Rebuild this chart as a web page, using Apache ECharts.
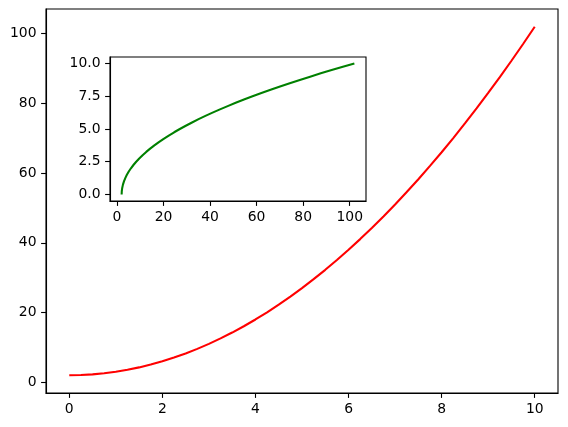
<!DOCTYPE html>
<html>
<head>
<meta charset="utf-8">
<script src="https://cdn.jsdelivr.net/npm/echarts@6/dist/echarts.min.js"></script>
<style>html,body{margin:0;padding:0;background:#fff;}#c{width:568px;height:427px;}</style>
</head>
<body>
<div id="c"></div>
<script>
var xVals = [0,0.25,0.5,0.75,1,1.25,1.5,1.75,2,2.25,2.5,2.75,3,3.25,3.5,3.75,4,4.25,4.5,4.75,5,5.25,5.5,5.75,6,6.25,6.5,6.75,7,7.25,7.5,7.75,8,8.25,8.5,8.75,9,9.25,9.5,9.75,10];
var yVals = [2,2.0625,2.25,2.5625,3,3.5625,4.25,5.0625,6,7.0625,8.25,9.5625,11,12.5625,14.25,16.0625,18,20.0625,22.25,24.5625,27,29.5625,32.25,35.0625,38,41.0625,44.25,47.5625,51,54.5625,58.25,62.0625,66,70.0625,74.25,78.5625,83,87.5625,92.25,97.0625,102];
var mainXTicks = [0,2,4,6,8,10];
var mainYTicks = [0,20,40,60,80,100];
var insetXTicks = [0,20,40,60,80,100];
var insetYTicks = [0,2.5,5,7.5,10];

var mainData = xVals.map(function(x,i){return [x,yVals[i]];});
var insetData = xVals.map(function(x,i){return [yVals[i],x];});

var font = {color:'#000', fontFamily:'DejaVu Sans', fontSize:13.9};
function xAxis(idx, min, max, ticks, fmt){
  return {type:'value', gridIndex:idx, min:min, max:max,
    splitLine:{show:false},
    axisLine:{show:true, onZero:false, lineStyle:{color:'#000', width:1.1}},
    axisTick:{show:true, length:4.9, customValues:ticks, lineStyle:{color:'#000', width:1.1}},
    axisLabel:Object.assign({margin:9.5, customValues:ticks, formatter:fmt, showMinLabel:true, showMaxLabel:true}, font)};
}
function yAxis(idx, min, max, ticks, fmt){
  var a = xAxis(idx, min, max, ticks, fmt);
  return a;
}
var chart = echarts.init(document.getElementById('c'), null, {renderer:'canvas'});
chart.setOption({
  animation:false,
  backgroundColor:'#fff',
  grid:[
    {left:46, top:9, right:10, bottom:34, show:true, borderColor:'#000', borderWidth:1.1, backgroundColor:'#fff', containLabel:false},
    {left:110, top:57, right:202, bottom:226, show:true, borderColor:'#000', borderWidth:1.1, backgroundColor:'#fff', containLabel:false, z:5}
  ],
  xAxis:[
    xAxis(0, -0.5, 10.5, mainXTicks, function(v){return String(v);}),
    Object.assign(xAxis(1, -3, 107, insetXTicks, function(v){return String(v);}), {z:6})
  ],
  yAxis:[
    yAxis(0, -3.1, 107.1, mainYTicks, function(v){return String(v);}),
    Object.assign(yAxis(1, -0.5, 10.5, insetYTicks, function(v){return v.toFixed(1);}), {z:6})
  ],
  series:[
    {type:'line', xAxisIndex:0, yAxisIndex:0, data:mainData, showSymbol:false, symbol:'none',
     lineStyle:{color:'#ff0000', width:2.08}, z:2},
    {type:'line', xAxisIndex:1, yAxisIndex:1, data:insetData, showSymbol:false, symbol:'none',
     lineStyle:{color:'#008000', width:2.08}, z:7}
  ]
});
</script>
</body>
</html>
